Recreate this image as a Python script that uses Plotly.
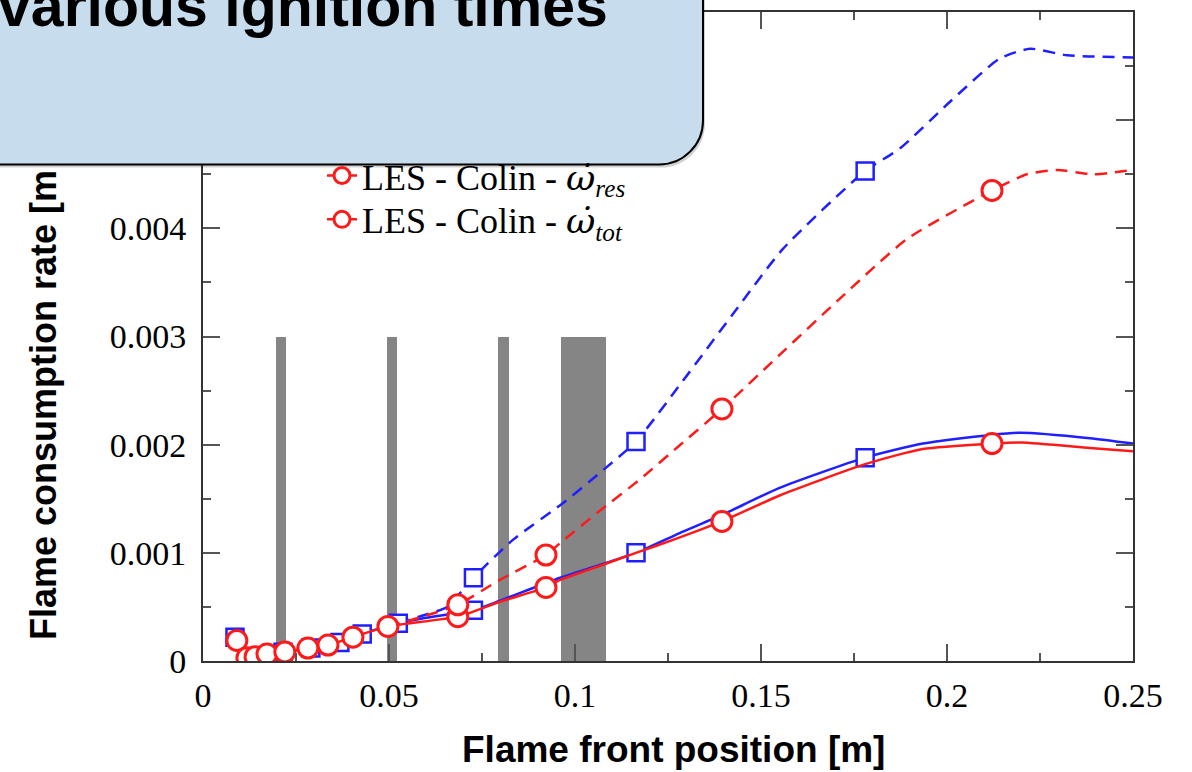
import plotly.graph_objects as go

# ---------------- data ----------------
# ignition bands (grey vertical strips)
band_start = [0.0196, 0.0495, 0.0794, 0.0963]
band_end = [0.0224, 0.0522, 0.0822, 0.1082]
band_top = [0.003, 0.003, 0.003, 0.003]

# LES - Colin - omega_res (red, solid)
red_res_x = [0.0091, 0.0118, 0.0140, 0.0172, 0.0220, 0.0282, 0.0336, 0.0403, 0.0497,
             0.0685, 0.0800, 0.0922, 0.0960, 0.1075, 0.1164, 0.1280, 0.1395, 0.1550,
             0.1780, 0.1935, 0.2121, 0.2200, 0.2384, 0.2500]
red_res_y = [0.00019, 0.00003, 0.00004, 0.000065, 0.000083, 0.00012, 0.000147, 0.00022, 0.00032,
             0.00041, 0.00055, 0.00068, 0.00075, 0.00089, 0.00100, 0.00114, 0.00129, 0.00153,
             0.00182, 0.00196, 0.00201, 0.00202, 0.00197, 0.00194]
red_res_mx = [0.0091, 0.0118, 0.0140, 0.0172, 0.0220, 0.0282, 0.0336, 0.0403, 0.0497,
              0.0685, 0.0922, 0.1395, 0.2121]
red_res_my = [0.00019, 0.00003, 0.00004, 0.000065, 0.000083, 0.00012, 0.000147, 0.00022, 0.00032,
              0.00041, 0.00068, 0.00129, 0.00201]

# LES - Colin - omega_tot (red, dashed)
red_tot_x = [0.0497, 0.0600, 0.0685, 0.0798, 0.0922, 0.0960, 0.1067, 0.1175, 0.1280, 0.1395,
             0.1550, 0.1712, 0.1892, 0.2121, 0.2215, 0.2296, 0.2392, 0.2500]
red_tot_y = [0.00032, 0.00042, 0.00052, 0.00075, 0.00098, 0.00109, 0.00139, 0.00168, 0.00199, 0.00233,
             0.00283, 0.00335, 0.00390, 0.00435, 0.00450, 0.00454, 0.00450, 0.00454]
red_tot_mx = [0.0685, 0.0922, 0.1395, 0.2121]
red_tot_my = [0.00052, 0.00098, 0.00233, 0.00435]

# second model, resolved (blue, solid)
blue_res_x = [0.0086, 0.0118, 0.0145, 0.0175, 0.0215, 0.0290, 0.0368, 0.0428, 0.0525, 0.0600,
              0.0727, 0.0800, 0.0960, 0.1164, 0.1280, 0.1395, 0.1550, 0.1780, 0.1935, 0.2116,
              0.2196, 0.2384, 0.2500]
blue_res_y = [0.00022, 0.00001, 0.00001, 0.00004, 0.00008, 0.00012, 0.00017, 0.00025, 0.00035, 0.00040,
              0.00047, 0.00056, 0.00077, 0.00100, 0.00118, 0.00135, 0.00160, 0.00188, 0.00201, 0.00209,
              0.00211, 0.00206, 0.00201]
blue_res_mx = [0.0086, 0.0118, 0.0145, 0.0215, 0.0290, 0.0368, 0.0428, 0.0525, 0.0727, 0.1164, 0.1780]
blue_res_my = [0.00022, 0.00001, 0.00001, 0.00008, 0.00012, 0.00017, 0.00025, 0.00035, 0.00047, 0.00100, 0.00188]

# second model, total (blue, dashed)
blue_tot_x = [0.0525, 0.0600, 0.0656, 0.0727, 0.0833, 0.0968, 0.1067, 0.1164, 0.1290, 0.1425,
              0.1559, 0.1780, 0.1874, 0.2008, 0.2142, 0.2223, 0.2323, 0.2500]
blue_tot_y = [0.00035, 0.00043, 0.00050, 0.00077, 0.00112, 0.00146, 0.00174, 0.00203, 0.00259, 0.00321,
              0.00381, 0.00453, 0.00474, 0.00517, 0.00557, 0.00566, 0.00560, 0.00558]
blue_tot_mx = [0.0727, 0.1164, 0.1780]
blue_tot_my = [0.00077, 0.00203, 0.00453]

x_ticks = [0, 0.05, 0.1, 0.15, 0.2, 0.25]
x_ticktext = ["0", "0.05", "0.1", "0.15", "0.2", "0.25"]
y_ticks = [0, 0.001, 0.002, 0.003, 0.004, 0.005, 0.006]
y_ticktext = ["0", "0.001", "0.002", "0.003", "0.004", "0.005", "0.006"]

title_text = "various ignition times"
xlabel = "Flame front position [m]"
ylabel = "Flame consumption rate [m"
OMEGA = "<span style='font-family:DejaVu Serif'><i>ω̇</i></span>"
legend_res = "LES - Colin - " + OMEGA + "<sub><i>res</i></sub>"
legend_tot = "LES - Colin - " + OMEGA + "<sub><i>tot</i></sub>"

# ---------------- style ----------------
RED = "#ff1a1a"
BLUE = "#1f1fff"
GREY = "#858585"
SERIF = "Liberation Serif"
SANS = "Liberation Sans"
W, H = 1192, 772
ML, MR, MT, MB = 203, 59, 10, 111
PW, PH = W - ML - MR, H - MT - MB


def px_to_paper(px, py):
    return (px - ML) / PW, (H - MB - py) / PH


fig = go.Figure()

fig.add_trace(go.Bar(
    x=[(s + e) / 2 for s, e in zip(band_start, band_end)],
    y=band_top,
    width=[e - s for s, e in zip(band_start, band_end)],
    marker=dict(color=GREY, line=dict(width=0)),
    showlegend=False, hoverinfo="skip",
))

line_kw = dict(shape="spline", smoothing=0.6, width=2.5)

fig.add_trace(go.Scatter(x=blue_res_x, y=blue_res_y, mode="lines",
                         line=dict(color=BLUE, **line_kw), showlegend=False))
fig.add_trace(go.Scatter(x=blue_tot_x, y=blue_tot_y, mode="lines",
                         line=dict(color=BLUE, dash="12px,8px", **line_kw), showlegend=False))
fig.add_trace(go.Scatter(x=blue_res_mx + blue_tot_mx, y=blue_res_my + blue_tot_my, mode="markers",
                         marker=dict(symbol="square", size=17, color="white",
                                     line=dict(color=BLUE, width=2.5)), showlegend=False))
fig.add_trace(go.Scatter(x=red_res_x, y=red_res_y, mode="lines",
                         line=dict(color=RED, **line_kw), showlegend=False))
fig.add_trace(go.Scatter(x=red_tot_x, y=red_tot_y, mode="lines",
                         line=dict(color=RED, dash="12px,8px", **line_kw), showlegend=False))
fig.add_trace(go.Scatter(x=red_res_mx + red_tot_mx, y=red_res_my + red_tot_my, mode="markers",
                         marker=dict(symbol="circle", size=20, color="white",
                                     line=dict(color=RED, width=3)), showlegend=False))

# legend entries (two separate legends for exact placement)
fig.add_trace(go.Scatter(x=[None], y=[None], mode="lines+markers", name=legend_res, legend="legend",
                         line=dict(color=RED, width=2.5),
                         marker=dict(symbol="circle", size=18, color="white", line=dict(color=RED, width=3))))
fig.add_trace(go.Scatter(x=[None], y=[None], mode="lines+markers", name=legend_tot, legend="legend2",
                         line=dict(color=RED, width=2.5, dash="7px,5px"),
                         marker=dict(symbol="circle", size=18, color="white", line=dict(color=RED, width=3))))

axis_common = dict(
    showline=True, linecolor="#333333", linewidth=2, mirror="ticks",
    ticks="inside", ticklen=17, tickwidth=2, tickcolor="#555555",
    showgrid=False, zeroline=False,
    tickfont=dict(family=SERIF, size=34, color="black"),
)

fig.update_xaxes(range=[0, 0.25], tickvals=x_ticks, ticktext=x_ticktext,
                 minor=dict(dtick=0.025, ticks="inside", ticklen=8, tickwidth=2, tickcolor="#555555"),
                 ticklabelstandoff=3, **axis_common)
fig.update_yaxes(range=[0, 0.006], tickvals=y_ticks, ticktext=y_ticktext,
                 minor=dict(dtick=0.0005, ticks="inside", ticklen=8, tickwidth=2, tickcolor="#555555"),
                 ticklabelstandoff=8, **axis_common)

# callout box (rounded bottom-right corner), drawn above the plot
bx0, by0 = px_to_paper(-12, -12)
bx1, by1 = px_to_paper(703, 163)
rdx, rdy = 44 / PW, 44 / PH
k = 0.45


def box_path(ox, oy):
    return (f"M{bx0 + ox},{by0 + oy} L{bx1 + ox},{by0 + oy} L{bx1 + ox},{by1 + rdy + oy} "
            f"C{bx1 + ox},{by1 + rdy * k + oy} {bx1 - rdx * k + ox},{by1 + oy} {bx1 - rdx + ox},{by1 + oy} "
            f"L{bx0 + ox},{by1 + oy} Z")


fig.add_shape(type="path", xref="paper", yref="paper", path=box_path(2 / PW, -3 / PH),
              fillcolor="rgba(0,0,0,0.18)", line=dict(width=0), layer="above")
fig.add_shape(type="path", xref="paper", yref="paper", path=box_path(0, 0),
              fillcolor="#c7dcec", line=dict(color="black", width=2), layer="above")

tx, ty = px_to_paper(-4, 4)
fig.add_annotation(text=title_text, xref="paper", yref="paper", x=tx, y=ty,
                   xanchor="left", yanchor="middle", showarrow=False,
                   font=dict(family=SANS, size=59, color="black", weight="bold"))

xl, yl = px_to_paper(673, 750)
fig.add_annotation(text=xlabel, xref="paper", yref="paper", x=xl, y=yl,
                   xanchor="center", yanchor="middle", showarrow=False,
                   font=dict(family=SANS, size=37, color="black", weight="bold"))

yx, yy = px_to_paper(43, 642)
fig.add_annotation(text=ylabel, xref="paper", yref="paper", x=yx, y=yy, textangle=-90,
                   xanchor="center", yanchor="bottom", showarrow=False,
                   font=dict(family=SANS, size=36, color="black", weight="bold"))

l1x, l1y = px_to_paper(322, 144)
l2x, l2y = px_to_paper(322, 188)
leg_common = dict(xanchor="left", yanchor="top", bgcolor="rgba(0,0,0,0)",
                  font=dict(family=SERIF, size=36, color="black"))
fig.update_layout(
    width=W, height=H, autosize=False,
    margin=dict(l=ML, r=MR, t=MT, b=MB, pad=0),
    paper_bgcolor="white", plot_bgcolor="white",
    bargap=0,
    legend=dict(x=l1x, y=l1y, **leg_common),
    legend2=dict(x=l2x, y=l2y, **leg_common),
)

fig.write_html("out.html")
